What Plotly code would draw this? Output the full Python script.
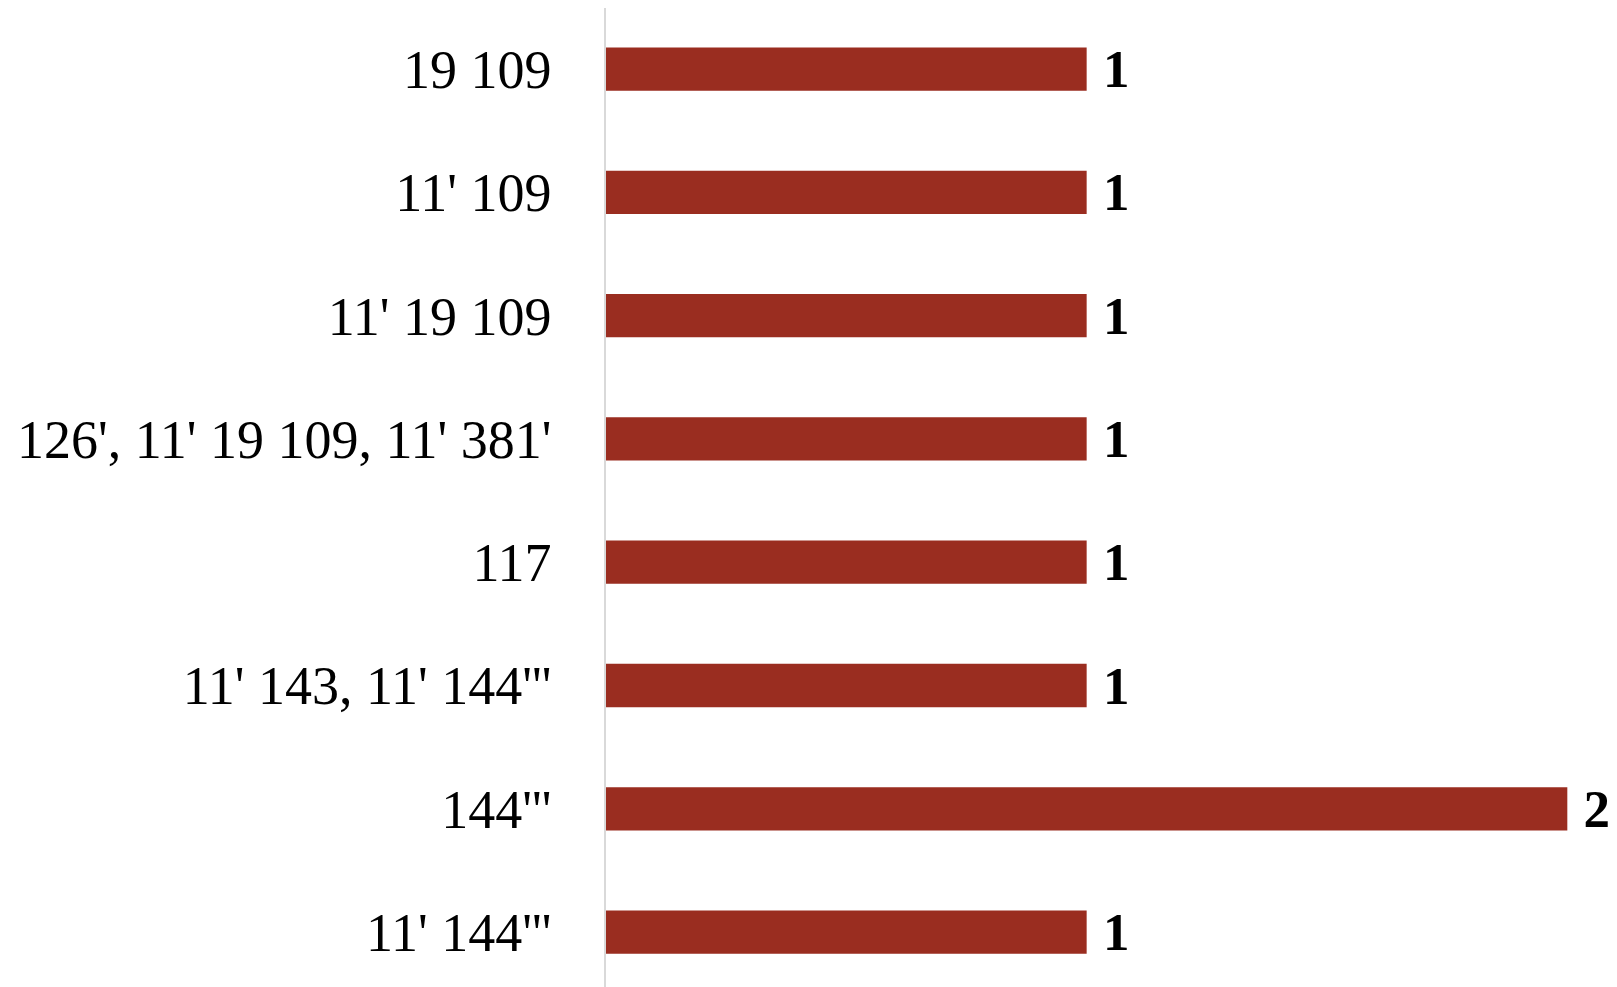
import plotly.graph_objects as go

categories = ["19 109", "11' 109", "11' 19 109", "126', 11' 19 109, 11' 381'",
              "117", "11' 143, 11' 144'''", "144'''", "11' 144'''"]
values = [1, 1, 1, 1, 1, 1, 2, 1]

fig = go.Figure(go.Bar(
    x=values, y=categories, orientation="h",
    marker=dict(color="#9A2D20", line=dict(width=0)),
    text=values, texttemplate="\u00a0%{x}", textposition="outside",
    constraintext="none",
    textfont=dict(family="Liberation Serif", size=53, color="#000000", weight="bold"),
    cliponaxis=False,
))

fig.update_layout(
    width=1617, height=987,
    margin=dict(l=598, r=0, t=0, b=1, autoexpand=False),
    paper_bgcolor="white", plot_bgcolor="white",
    bargap=0.649, showlegend=False,
    font=dict(family="Liberation Serif", size=54, color="#000000"),
)
fig.update_xaxes(range=[0, 2.120], showgrid=False, zeroline=False,
                 showticklabels=False, showline=False)
fig.update_yaxes(type="category", categoryarray=categories, automargin=False,
                 range=[7.502, -0.495], showgrid=False, zeroline=False,
                 showline=True, linecolor="#D9D9D9", linewidth=1.5,
                 ticks="", ticklabelstandoff=42,
                 tickfont=dict(family="Liberation Serif", size=54, color="#000000"))

fig.write_html("out.html")
